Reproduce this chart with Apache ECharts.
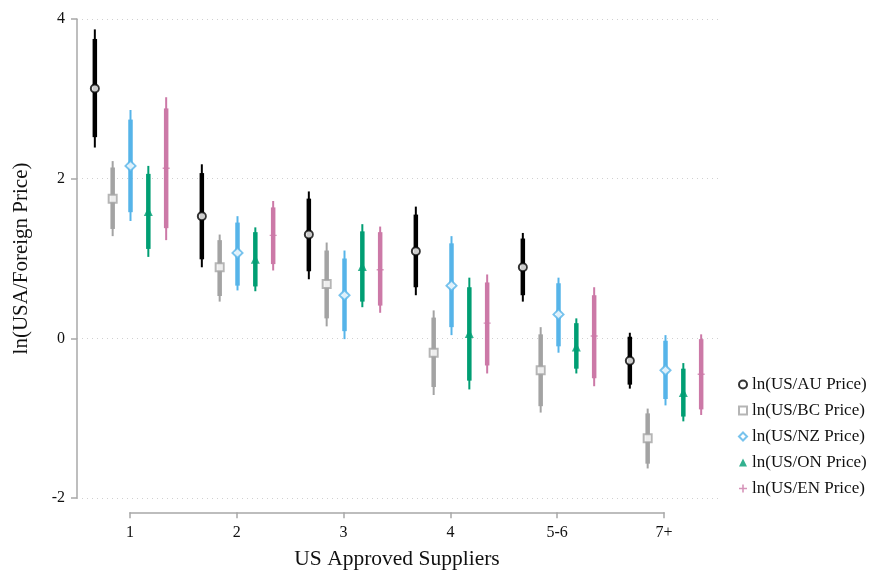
<!DOCTYPE html>
<html>
<head>
<meta charset="utf-8">
<script src="https://cdn.jsdelivr.net/npm/echarts@6/dist/echarts.min.js"></script>
<style>
  html, body { margin: 0; padding: 0; background: #fff; }
  #main { width: 873px; height: 571px; }
</style>
</head>
<body>
<div id="main"></div>
<script>
// categories of the x axis
const categories = ['1', '2', '3', '4', '5-6', '7+']
const seriesNames = ['ln(US/AU Price)', 'ln(US/BC Price)', 'ln(US/NZ Price)', 'ln(US/ON Price)', 'ln(US/EN Price)']

// point estimates
const estAU = [3.13, 1.53, 1.30, 1.09, 0.89, -0.28]
const estBC = [1.75, 0.89, 0.68, -0.18, -0.40, -1.25]
const estNZ = [2.16, 1.07, 0.54, 0.66, 0.30, -0.40]
const estON = [1.59, 0.99, 0.90, 0.06, -0.11, -0.68]
const estEN = [2.13, 1.29, 0.86, 0.19, 0.03, -0.45]

// 95% intervals (thin)
const lo95AU = [2.39, 0.89, 0.74, 0.54, 0.46, -0.63]
const hi95AU = [3.87, 2.18, 1.84, 1.65, 1.32, 0.07]
const lo95BC = [1.28, 0.46, 0.15, -0.71, -0.93, -1.63]
const hi95BC = [2.22, 1.30, 1.20, 0.35, 0.14, -0.88]
const lo95NZ = [1.47, 0.60, -0.01, 0.04, -0.18, -0.84]
const hi95NZ = [2.86, 1.53, 1.10, 1.28, 0.76, 0.04]
const lo95ON = [1.02, 0.59, 0.39, -0.64, -0.44, -1.04]
const hi95ON = [2.16, 1.39, 1.43, 0.76, 0.25, -0.31]
const lo95EN = [1.23, 0.85, 0.32, -0.44, -0.60, -0.96]
const hi95EN = [3.02, 1.72, 1.40, 0.80, 0.64, 0.05]

// 90% intervals (thick)
const lo90AU = [2.52, 0.99, 0.84, 0.64, 0.54, -0.58]
const hi90AU = [3.75, 2.07, 1.75, 1.55, 1.25, 0.02]
const lo90BC = [1.37, 0.53, 0.25, -0.61, -0.85, -1.57]
const hi90BC = [2.14, 1.23, 1.10, 0.26, 0.05, -0.94]
const lo90NZ = [1.58, 0.66, 0.09, 0.14, -0.10, -0.76]
const hi90NZ = [2.74, 1.45, 1.00, 1.19, 0.69, -0.03]
const lo90ON = [1.12, 0.65, 0.46, -0.53, -0.38, -0.98]
const hi90ON = [2.06, 1.33, 1.34, 0.64, 0.19, -0.38]
const lo90EN = [1.38, 0.93, 0.41, -0.34, -0.50, -0.89]
const hi90EN = [2.88, 1.64, 1.33, 0.70, 0.54, -0.01]

const FONT = 'Liberation Serif'
const colors = ['#000000', '#a3a3a3', '#56b4e9', '#009e73', '#cc79a7']
const offsets = [-1 / 3, -1 / 6, 0, 1 / 6, 1 / 3]
const symbols = ['circle', 'rect', 'diamond', 'triangle', 'path://M4,0H6V4H10V6H6V10H4V6H0V4H4Z']
const symbolSizes = [8, 8, 10, 9, 7]
const hollow = [true, true, true, false, false]

const ests = [estAU, estBC, estNZ, estON, estEN]
const lo95s = [lo95AU, lo95BC, lo95NZ, lo95ON, lo95EN]
const hi95s = [hi95AU, hi95BC, hi95NZ, hi95ON, hi95EN]
const lo90s = [lo90AU, lo90BC, lo90NZ, lo90ON, lo90EN]
const hi90s = [hi90AU, hi90BC, hi90NZ, hi90ON, hi90EN]

var myChart = echarts.init(document.getElementById('main'))

var series = []
seriesNames.forEach((name, s) => {
  var ciData = []
  var ptData = []
  categories.forEach((c, i) => {
    var x = i + 1 + offsets[s]
    ciData.push([x, lo95s[s][i], hi95s[s][i], lo90s[s][i], hi90s[s][i]])
    ptData.push([x, ests[s][i]])
  })
  // intervals
  series.push({
    name: name + ' ci',
    type: 'custom',
    xAxisIndex: 0,
    yAxisIndex: 0,
    data: ciData,
    z: 2,
    renderItem (params, api) {
      var x = api.value(0)
      var a = api.coord([x, api.value(1)])
      var b = api.coord([x, api.value(2)])
      var c = api.coord([x, api.value(3)])
      var d = api.coord([x, api.value(4)])
      return {
        type: 'group',
        children: [
          { type: 'line', shape: { x1: a[0], y1: a[1], x2: b[0], y2: b[1] }, style: { stroke: colors[s], lineWidth: 2 } },
          { type: 'line', shape: { x1: c[0], y1: c[1], x2: d[0], y2: d[1] }, style: { stroke: colors[s], lineWidth: 4.5 } }
        ]
      }
    }
  })
  // point estimates
  series.push({
    name: name,
    type: 'scatter',
    xAxisIndex: 0,
    yAxisIndex: 0,
    data: ptData,
    z: 5,
    symbol: symbols[s],
    symbolSize: symbolSizes[s],
    itemStyle: hollow[s]
      ? { color: '#fff', borderColor: colors[s], borderWidth: 2 }
      : { color: colors[s] }
  })
})

myChart.setOption({
  animation: false,
  backgroundColor: '#fff',
  textStyle: { fontFamily: FONT },
  grid: [
    { left: 77, right: 154, top: 19, bottom: 73 },
    { left: 130, right: 209, top: 512, height: 1 }
  ],
  legend: {
    orient: 'vertical',
    left: 733,
    top: 371,
    itemWidth: 8,
    itemHeight: 8,
    itemGap: 9,
    data: seriesNames,
    textStyle: { fontFamily: FONT, fontSize: 17, color: '#111' }
  },
  xAxis: [
    {
      gridIndex: 0,
      type: 'value',
      min: 0.5,
      max: 6.5,
      show: false,
      splitLine: { show: false }
    },
    {
      gridIndex: 1,
      type: 'category',
      boundaryGap: false,
      data: categories,
      name: 'US Approved Suppliers',
      nameLocation: 'middle',
      nameGap: 36,
      nameTextStyle: { fontFamily: FONT, fontSize: 21.5, color: '#111' },
      axisLine: { lineStyle: { color: '#a8a8a8', width: 1.5 } },
      axisTick: { length: 6, lineStyle: { color: '#a8a8a8', width: 1.5 } },
      axisLabel: { margin: 13, fontFamily: FONT, fontSize: 16, color: '#111' },
      splitLine: { show: false }
    }
  ],
  yAxis: [
    {
      gridIndex: 0,
      type: 'value',
      min: -2,
      max: 4,
      interval: 2,
      name: 'ln(USA/Foreign Price)',
      nameLocation: 'middle',
      nameGap: 45,
      nameTextStyle: { fontFamily: FONT, fontSize: 21, color: '#111' },
      axisLine: { show: true, lineStyle: { color: '#a8a8a8', width: 1.5 } },
      axisTick: { show: true, length: 6, lineStyle: { color: '#a8a8a8', width: 1.5 } },
      axisLabel: { margin: 12, fontFamily: FONT, fontSize: 16, color: '#111' },
      splitLine: { lineStyle: { color: '#d0d0d0', type: [1, 4], width: 1 } }
    },
    {
      gridIndex: 1,
      type: 'value',
      show: false,
      splitLine: { show: false }
    }
  ],
  series: series
})

window.onresize = function () {
  myChart.resize()
}
</script>
</body>
</html>
